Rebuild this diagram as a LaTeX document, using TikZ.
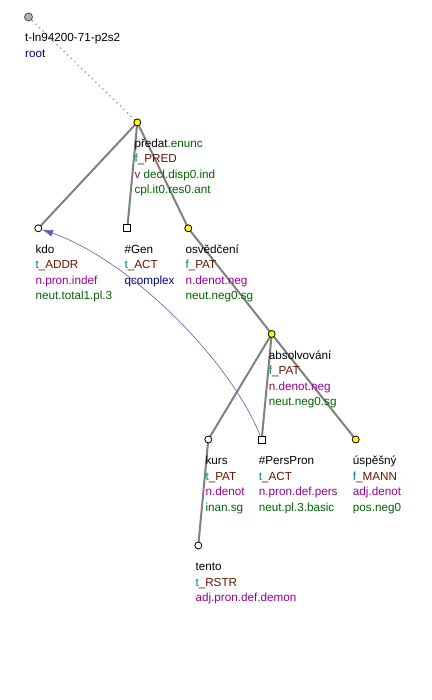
\documentclass[tikz,border=0pt]{standalone}
\usepackage{fontspec}
\setmainfont{Liberation Sans}
\usetikzlibrary{arrows.meta,backgrounds}
\definecolor{cteal}{RGB}{0,128,128}
\definecolor{cfun}{RGB}{110,20,0}
\definecolor{cpurp}{RGB}{150,0,150}
\definecolor{cgreen}{RGB}{0,100,0}
\definecolor{cblue}{RGB}{0,0,140}
\definecolor{cedge}{RGB}{128,128,128}
\definecolor{ccoref}{RGB}{90,94,175}
\definecolor{cyel}{RGB}{255,255,0}
\newcommand{\fn}[2]{\textcolor{cteal}{#1}\textcolor{cfun}{\_#2}}
\begin{document}
\begin{tikzpicture}[x=1pt,y=-1pt,
  lab/.style={anchor=base west, inner sep=0pt, font=\fontsize{11.7pt}{15.5pt}\selectfont},
  tcirc/.style={circle, draw=black, line width=0.8pt, fill=white, minimum size=7pt, inner sep=0pt},
  ycirc/.style={tcirc, fill=cyel},
  sqnode/.style={rectangle, draw=black, line width=0.8pt, fill=white, minimum size=7pt, inner sep=0pt},
  rootnode/.style={circle, draw=black!70, line width=0.8pt, fill=black!30, minimum size=8pt, inner sep=0pt},
  edge/.style={draw=cedge, line width=2pt},
  rootedge/.style={draw=black!40, line width=1.3pt, dash pattern=on 1.3pt off 3.6pt},
  coref/.style={draw=ccoref, line width=0.6pt, -{Latex[length=11pt,width=7pt]}}]
\useasboundingbox (0,0) rectangle (431,700);

% tree nodes
\node[rootnode] (root) at (28.5,17) {};
\node[ycirc] (predat) at (137.3,122.4) {};
\node[tcirc] (kdo) at (38.3,228.3) {};
\node[sqnode] (gen) at (127.3,228.3) {};
\node[ycirc] (osv) at (188.3,228.3) {};
\node[ycirc] (absol) at (271.7,334) {};
\node[tcirc] (kurs) at (208.3,439.5) {};
\node[sqnode] (pers) at (261.7,439.5) {};
\node[ycirc] (usp) at (355.7,439.5) {};
\node[tcirc] (tento) at (198.3,545.5) {};

% labels
\node[lab] (root-1) at (25,42) {t-ln94200-71-p2s2};
\node[lab] (root-2) at (25,57.5) {\textcolor{cblue}{root}};

\node[lab] (predat-1) at (134.3,147.4) {předat\textcolor{cgreen}{.enunc}};
\node[lab] (predat-2) at (134.3,162.9) {\fn{f}{PRED}};
\node[lab] (predat-3) at (134.3,178.4) {\textcolor{cpurp}{v} \textcolor{cgreen}{decl.disp0.ind}};
\node[lab] (predat-4) at (134.3,193.9) {\textcolor{cgreen}{cpl.it0.res0.ant}};

\node[lab] (kdo-1) at (35.3,253.3) {kdo};
\node[lab] (kdo-2) at (35.3,268.8) {\fn{t}{ADDR}};
\node[lab] (kdo-3) at (35.3,284.3) {\textcolor{cpurp}{n.pron.indef}};
\node[lab] (kdo-4) at (35.3,299.8) {\textcolor{cgreen}{neut.total1.pl.3}};

\node[lab] (gen-1) at (124.3,253.3) {\#Gen};
\node[lab] (gen-2) at (124.3,268.8) {\fn{t}{ACT}};
\node[lab] (gen-3) at (124.3,284.3) {\textcolor{cblue}{qcomplex}};

\node[lab] (osv-1) at (185.3,253.3) {osvědčení};
\node[lab] (osv-2) at (185.3,268.8) {\fn{f}{PAT}};
\node[lab] (osv-3) at (185.3,284.3) {\textcolor{cpurp}{n.denot.neg}};
\node[lab] (osv-4) at (185.3,299.8) {\textcolor{cgreen}{neut.neg0.sg}};

\node[lab] (absol-1) at (268.7,359) {absolvování};
\node[lab] (absol-2) at (268.7,374.5) {\fn{f}{PAT}};
\node[lab] (absol-3) at (268.7,390) {\textcolor{cpurp}{n.denot.neg}};
\node[lab] (absol-4) at (268.7,405.5) {\textcolor{cgreen}{neut.neg0.sg}};

\node[lab] (kurs-1) at (205.3,464.5) {kurs};
\node[lab] (kurs-2) at (205.3,480) {\fn{t}{PAT}};
\node[lab] (kurs-3) at (205.3,495.5) {\textcolor{cpurp}{n.denot}};
\node[lab] (kurs-4) at (205.3,511) {\textcolor{cgreen}{inan.sg}};

\node[lab] (pers-1) at (258.7,464.5) {\#PersPron};
\node[lab] (pers-2) at (258.7,480) {\fn{t}{ACT}};
\node[lab] (pers-3) at (258.7,495.5) {\textcolor{cpurp}{n.pron.def.pers}};
\node[lab] (pers-4) at (258.7,511) {\textcolor{cgreen}{neut.pl.3.basic}};

\node[lab] (usp-1) at (352.7,464.5) {úspěšný};
\node[lab] (usp-2) at (352.7,480) {\fn{f}{MANN}};
\node[lab] (usp-3) at (352.7,495.5) {\textcolor{cpurp}{adj.denot}};
\node[lab] (usp-4) at (352.7,511) {\textcolor{cgreen}{pos.neg0}};

\node[lab] (tento-1) at (195.3,570.5) {tento};
\node[lab] (tento-2) at (195.3,586) {\fn{t}{RSTR}};
\node[lab] (tento-3) at (195.3,601.5) {\textcolor{cpurp}{adj.pron.def.demon}};

\begin{pgfonlayer}{background}
\draw[rootedge] (root.center) -- (predat.center);
\draw[edge] (predat.center) -- (kdo.center);
\draw[edge] (predat.center) -- (gen.center);
\draw[edge] (predat.center) -- (osv.center);
\draw[edge] (osv.center) -- (absol.center);
\draw[edge] (absol.center) -- (kurs.center);
\draw[edge] (absol.center) -- (pers.center);
\draw[edge] (absol.center) -- (usp.center);
\draw[edge] (kurs.center) -- (tento.center);
\end{pgfonlayer}

\draw[coref] (pers) .. controls (230,360) and (130,260) .. (kdo);
\end{tikzpicture}
\end{document}
